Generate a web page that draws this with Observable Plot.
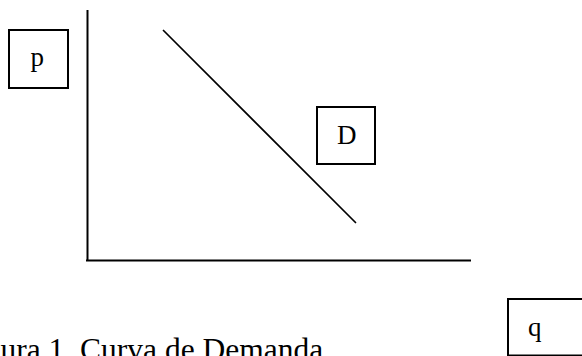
<!DOCTYPE html>
<html>
<head>
<meta charset="utf-8">
<script src="https://cdn.jsdelivr.net/npm/d3@7"></script>
<script src="https://cdn.jsdelivr.net/npm/@observablehq/plot@0.6"></script>
<style>
  html, body { margin: 0; padding: 0; background: #fff; overflow: hidden; }
</style>
</head>
<body>
<div id="chart"></div>
<script>
// Axis extents (q horizontal, p vertical)
const qAxisEnd = 384;
const pAxisEnd = 250;
// Demand curve endpoints
const demandQ = [76, 268];
const demandP = [230, 38];
// Label boxes
const boxLabels = ["p", "D", "q"];
const boxQ1 = [-78, 230, 421];
const boxQ2 = [-19, 288, 520];
const boxP1 = [230, 153, -39];
const boxP2 = [172, 96, -95.5];
const labelQ = [-57, 249.5, 440.5];
const labelP = [194.5, 117, -75];
// Caption
const captionText = ["ura 1. Curva de Demanda"];
const captionQ = [0 - 87];
const captionP = [-99];

const demand = demandQ.map((q, i) => ({q, p: demandP[i]}));
const boxes = boxLabels.map((label, i) => ({
  label, x1: boxQ1[i], x2: boxQ2[i], y1: boxP1[i], y2: boxP2[i], tx: labelQ[i], ty: labelP[i]
}));
const caption = captionText.map((t, i) => ({t, q: captionQ[i], p: captionP[i]}));

const font = "'Liberation Serif', 'Times New Roman', Times, serif";

const chart = Plot.plot({
  width: 582,
  height: 356,
  margin: 0,
  style: {background: "white", overflow: "visible"},
  x: {domain: [-87, 495], range: [0, 582], axis: null},
  y: {domain: [-96, 260], range: [356, 0], axis: null},
  marks: [
    Plot.ruleX([0], {y1: 0, y2: pAxisEnd, stroke: "black", strokeWidth: 2}),
    Plot.ruleY([0], {x1: -1, x2: qAxisEnd, stroke: "black", strokeWidth: 2}),
    Plot.line(demand, {x: "q", y: "p", stroke: "black", strokeWidth: 1.7}),
    Plot.rect(boxes, {x1: "x1", x2: "x2", y1: "y1", y2: "y2", fill: "white", stroke: "black", strokeWidth: 2}),
    Plot.text(boxes, {x: "tx", y: "ty", text: "label", textAnchor: "start", lineAnchor: "bottom",
      fontSize: 27, fontFamily: font, fill: "black"}),
    Plot.text(caption, {x: "q", y: "p", text: "t", textAnchor: "start", lineAnchor: "bottom",
      fontSize: 31.5, fontFamily: font, fill: "black"})
  ]
});
document.getElementById("chart").appendChild(chart);
</script>
</body>
</html>
